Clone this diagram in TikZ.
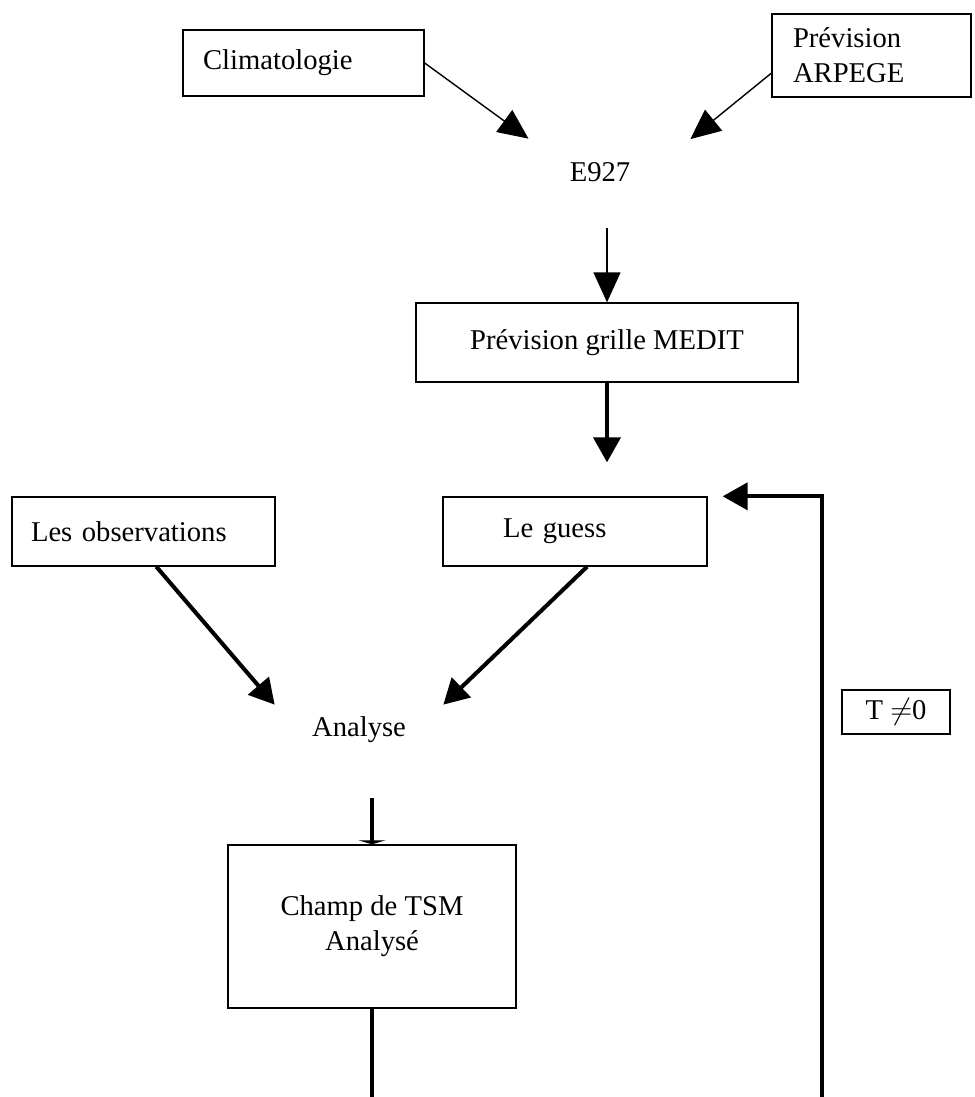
\documentclass[tikz,border=0pt]{standalone}
\usepackage{fontspec}
\setmainfont{Liberation Serif}
\usetikzlibrary{arrows.meta}

\begin{document}
\begin{tikzpicture}[every node/.style={font=\fontsize{16.3}{20}\selectfont},
	block/.style={draw, line width=0.75pt, inner ysep=0pt},
	flow/.style={-{Triangle[length=6mm, width=5.4mm]}, line width=0.8pt},
	bigflow/.style={-{Triangle[length=5mm, width=5.4mm]}, line width=2.3pt}]
	\useasboundingbox (0,0) rectangle (19.48,21.94);
	% inputs of E927
	\node[block, text width=4.02cm, inner xsep=0.4cm, minimum height=1.32cm, align=left] (clim) at (6.07,20.68) {Climatologie};
	\node[block, text width=3.14cm, inner xsep=0.42cm, minimum height=1.66cm, align=left] (arpege) at (17.43,20.83) {Prévision\\ARPEGE};
	\node[minimum width=3.6cm, minimum height=1.32cm] (e927) at (12.00,18.50) {E927};
	\node[block, minimum width=7.64cm, minimum height=1.58cm] (medit) at (12.14,15.09) {Prévision grille MEDIT};
	% analysis step
	\node[block, text width=4.5cm, inner xsep=0.38cm, minimum height=1.38cm, align=left] (obs) at (2.87,11.31) {Les observations};
	\node[block, text width=2.88cm, inner xsep=1.2cm, minimum height=1.38cm, align=left] (guess) at (11.50,11.31) {Le guess};
	\node[minimum width=3.36cm, minimum height=1cm] (analyse) at (7.18,7.34) {Analyse};
	\node[block, minimum width=5.76cm, minimum height=3.26cm, align=center] (champ) at (7.44,3.41) {Champ de TSM\\Analysé};
	\node[block, minimum width=2.16cm, minimum height=0.88cm] (tne) at (17.92,7.70) {T $\neq$0};
	\coordinate (bot) at (7.44,0);
	\coordinate (fbot) at (16.44,0);

	\draw[flow] (clim.east) -- (e927.155);
	\draw[flow] (arpege.190) -- (e927.20);
	\draw[flow, shorten <=0.46cm] (e927.south -| medit.north) -- (medit.north);
	\draw[bigflow, shorten >=0.68cm] (medit.south) -- (medit.south |- guess.north);
	\draw[bigflow] (obs.-70) -- (analyse.north west);
	\draw[bigflow] (guess.-71) -- (analyse.north east);
	\draw[line width=2.3pt, -{Triangle[length=0.8mm, width=5.4mm]}, shorten <=0.86cm] (analyse.south -| champ.north) -- (champ.north);
	\draw[line width=2.3pt] (champ.south) -- (bot);
	% loop back for T /= 0
	\draw[bigflow, shorten >=0.3cm] (fbot) |- (guess.north east);
\end{tikzpicture}
\end{document}
